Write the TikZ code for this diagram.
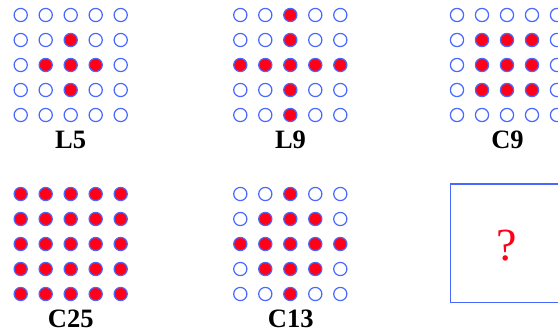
\documentclass[tikz,border=0pt]{standalone}
\usepackage{fontspec}
\setmainfont{Liberation Serif}
\definecolor{dotblue}{RGB}{72,104,255}
\definecolor{dotred}{RGB}{255,0,24}
\tikzset{
  dot/.style={circle, draw=dotblue, line width=1.2pt, minimum size=13.2pt, inner sep=0pt},
  full/.style={dot, fill=dotred},
  empty/.style={dot, fill=white},
  lab/.style={anchor=base, inner sep=0pt, font=\fontsize{26.5}{30}\selectfont\bfseries},
  qbox/.style={draw=dotblue, line width=1.3pt, fill=white}
}
\newcommand{\dotgrid}[4]{%
  \foreach \r in {0,...,4}{%
    \foreach \c in {0,...,4}{%
      \pgfmathparse{(#4) ? 1 : 0}%
      \ifnum\pgfmathresult>0
        \node[full] (#1-\r-\c) at ({#2+25*\c},{#3+25*\r}) {};
      \else
        \node[empty] (#1-\r-\c) at ({#2+25*\c},{#3+25*\r}) {};
      \fi
    }%
  }%
}
\begin{document}
\begin{tikzpicture}[x=1pt,y=-1pt]
\useasboundingbox (0,0) rectangle (558,332);
\dotgrid{La}{20.7}{15}{abs(\r-2)+abs(\c-2)<=1}
\dotgrid{Lb}{240.3}{15}{or(\r==2,\c==2)}
\dotgrid{Ca}{457}{15}{and(abs(\r-2)<=1,abs(\c-2)<=1)}
\dotgrid{Cb}{20.7}{194}{1}
\dotgrid{Cc}{240.3}{194}{abs(\r-2)+abs(\c-2)<=2}
\node[lab] (tLa) at (70.7,148) {L5};
\node[lab] (tLb) at (290.5,148) {L9};
\node[lab] (tCa) at (507.5,148) {C9};
\node[lab] (tCb) at (70.7,327) {C25};
\node[lab] (tCc) at (290.7,327) {C13};
\draw[qbox] (450.7,184) rectangle (562,302.3);
\node[anchor=base, inner sep=0pt, text=dotred, font=\fontsize{46}{50}\selectfont] (q) at (506.7,260) {?};
\end{tikzpicture}
\end{document}
